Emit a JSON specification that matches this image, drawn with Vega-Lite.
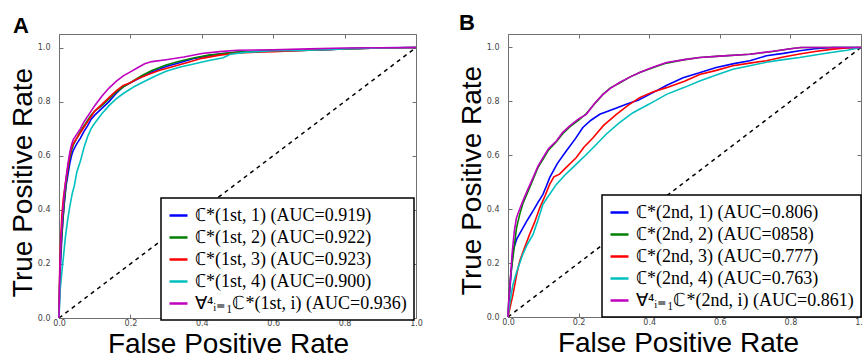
{
  "$schema": "https://vega.github.io/schema/vega-lite/v6.json",
  "padding": {"left": 8, "top": 11, "right": 0, "bottom": 0},
  "background": "white",
  "config": {
    "view": {"stroke": "#707070", "strokeWidth": 1},
    "font": "Liberation Sans",
    "axis": {
      "labelFontSize": 8, "labelColor": "#444444", "labelFont": "DejaVu Sans",
      "tickColor": "#707070", "tickSize": -4, "domain": false, "grid": false,
      "titleFontSize": 28, "titleFontWeight": "normal", "titleColor": "black", "titleFont": "Liberation Sans",
      "labelFlush": false, "format": ".1f"
    },
    "axisX": {"labelPadding": 5, "titlePadding": 3},
    "axisY": {"labelPadding": 13, "titlePadding": 0},
    "legend": {
      "orient": "none", "strokeColor": "black", "strokeWidth": 1.5, "fillColor": "white", "padding": 7,
      "labelFont": "Liberation Serif", "labelFontSize": 18, "labelColor": "black", "labelLimit": 400,
      "symbolType": "stroke", "symbolSize": 324, "symbolStrokeWidth": 2.5, "rowPadding": 2, "labelOffset": 6
    },
    "concat": {"spacing": 34}
  },
  "datasets": {
    "diag": [{"fpr": 0, "tpr": 0}, {"fpr": 1, "tpr": 1}],
    "rocA": [
      {"series": "b", "fpr": 0, "tpr": 0}, {"series": "b", "fpr": 0.002, "tpr": 0.12}, {"series": "b", "fpr": 0.005, "tpr": 0.22}, {"series": "b", "fpr": 0.008, "tpr": 0.3}, {"series": "b", "fpr": 0.012, "tpr": 0.38}, {"series": "b", "fpr": 0.016, "tpr": 0.44}, {"series": "b", "fpr": 0.02, "tpr": 0.49}, {"series": "b", "fpr": 0.025, "tpr": 0.53}, {"series": "b", "fpr": 0.03, "tpr": 0.57}, {"series": "b", "fpr": 0.035, "tpr": 0.6}, {"series": "b", "fpr": 0.04, "tpr": 0.62}, {"series": "b", "fpr": 0.05, "tpr": 0.645}, {"series": "b", "fpr": 0.06, "tpr": 0.665}, {"series": "b", "fpr": 0.07, "tpr": 0.69}, {"series": "b", "fpr": 0.08, "tpr": 0.71}, {"series": "b", "fpr": 0.09, "tpr": 0.735}, {"series": "b", "fpr": 0.1, "tpr": 0.75}, {"series": "b", "fpr": 0.12, "tpr": 0.775}, {"series": "b", "fpr": 0.14, "tpr": 0.8}, {"series": "b", "fpr": 0.16, "tpr": 0.83}, {"series": "b", "fpr": 0.18, "tpr": 0.855}, {"series": "b", "fpr": 0.2, "tpr": 0.87}, {"series": "b", "fpr": 0.23, "tpr": 0.89}, {"series": "b", "fpr": 0.26, "tpr": 0.91}, {"series": "b", "fpr": 0.3, "tpr": 0.93}, {"series": "b", "fpr": 0.34, "tpr": 0.945}, {"series": "b", "fpr": 0.38, "tpr": 0.96}, {"series": "b", "fpr": 0.42, "tpr": 0.97}, {"series": "b", "fpr": 0.46, "tpr": 0.978}, {"series": "b", "fpr": 0.5, "tpr": 0.982}, {"series": "b", "fpr": 0.6, "tpr": 0.988}, {"series": "b", "fpr": 0.7, "tpr": 0.99}, {"series": "b", "fpr": 0.8, "tpr": 0.995}, {"series": "b", "fpr": 0.9, "tpr": 0.999}, {"series": "b", "fpr": 1, "tpr": 1},
      {"series": "g", "fpr": 0, "tpr": 0}, {"series": "g", "fpr": 0.002, "tpr": 0.15}, {"series": "g", "fpr": 0.005, "tpr": 0.25}, {"series": "g", "fpr": 0.01, "tpr": 0.35}, {"series": "g", "fpr": 0.015, "tpr": 0.43}, {"series": "g", "fpr": 0.02, "tpr": 0.5}, {"series": "g", "fpr": 0.025, "tpr": 0.55}, {"series": "g", "fpr": 0.03, "tpr": 0.59}, {"series": "g", "fpr": 0.035, "tpr": 0.62}, {"series": "g", "fpr": 0.04, "tpr": 0.64}, {"series": "g", "fpr": 0.05, "tpr": 0.665}, {"series": "g", "fpr": 0.06, "tpr": 0.69}, {"series": "g", "fpr": 0.07, "tpr": 0.71}, {"series": "g", "fpr": 0.08, "tpr": 0.73}, {"series": "g", "fpr": 0.09, "tpr": 0.75}, {"series": "g", "fpr": 0.1, "tpr": 0.765}, {"series": "g", "fpr": 0.12, "tpr": 0.785}, {"series": "g", "fpr": 0.14, "tpr": 0.81}, {"series": "g", "fpr": 0.16, "tpr": 0.835}, {"series": "g", "fpr": 0.18, "tpr": 0.855}, {"series": "g", "fpr": 0.2, "tpr": 0.87}, {"series": "g", "fpr": 0.23, "tpr": 0.895}, {"series": "g", "fpr": 0.26, "tpr": 0.915}, {"series": "g", "fpr": 0.3, "tpr": 0.935}, {"series": "g", "fpr": 0.34, "tpr": 0.95}, {"series": "g", "fpr": 0.38, "tpr": 0.962}, {"series": "g", "fpr": 0.42, "tpr": 0.972}, {"series": "g", "fpr": 0.46, "tpr": 0.978}, {"series": "g", "fpr": 0.5, "tpr": 0.983}, {"series": "g", "fpr": 0.6, "tpr": 0.987}, {"series": "g", "fpr": 0.7, "tpr": 0.99}, {"series": "g", "fpr": 0.8, "tpr": 0.995}, {"series": "g", "fpr": 0.9, "tpr": 0.998}, {"series": "g", "fpr": 1, "tpr": 1},
      {"series": "r", "fpr": 0, "tpr": 0}, {"series": "r", "fpr": 0.002, "tpr": 0.18}, {"series": "r", "fpr": 0.005, "tpr": 0.3}, {"series": "r", "fpr": 0.008, "tpr": 0.38}, {"series": "r", "fpr": 0.012, "tpr": 0.44}, {"series": "r", "fpr": 0.018, "tpr": 0.5}, {"series": "r", "fpr": 0.024, "tpr": 0.55}, {"series": "r", "fpr": 0.03, "tpr": 0.6}, {"series": "r", "fpr": 0.035, "tpr": 0.63}, {"series": "r", "fpr": 0.04, "tpr": 0.645}, {"series": "r", "fpr": 0.05, "tpr": 0.665}, {"series": "r", "fpr": 0.06, "tpr": 0.685}, {"series": "r", "fpr": 0.07, "tpr": 0.705}, {"series": "r", "fpr": 0.08, "tpr": 0.725}, {"series": "r", "fpr": 0.09, "tpr": 0.745}, {"series": "r", "fpr": 0.1, "tpr": 0.765}, {"series": "r", "fpr": 0.12, "tpr": 0.79}, {"series": "r", "fpr": 0.14, "tpr": 0.815}, {"series": "r", "fpr": 0.16, "tpr": 0.84}, {"series": "r", "fpr": 0.18, "tpr": 0.86}, {"series": "r", "fpr": 0.2, "tpr": 0.87}, {"series": "r", "fpr": 0.22, "tpr": 0.885}, {"series": "r", "fpr": 0.25, "tpr": 0.9}, {"series": "r", "fpr": 0.28, "tpr": 0.915}, {"series": "r", "fpr": 0.32, "tpr": 0.93}, {"series": "r", "fpr": 0.36, "tpr": 0.945}, {"series": "r", "fpr": 0.4, "tpr": 0.96}, {"series": "r", "fpr": 0.45, "tpr": 0.972}, {"series": "r", "fpr": 0.5, "tpr": 0.98}, {"series": "r", "fpr": 0.6, "tpr": 0.985}, {"series": "r", "fpr": 0.7, "tpr": 0.99}, {"series": "r", "fpr": 0.8, "tpr": 0.995}, {"series": "r", "fpr": 0.9, "tpr": 0.998}, {"series": "r", "fpr": 1, "tpr": 1},
      {"series": "c", "fpr": 0, "tpr": 0}, {"series": "c", "fpr": 0.003, "tpr": 0.1}, {"series": "c", "fpr": 0.008, "tpr": 0.17}, {"series": "c", "fpr": 0.012, "tpr": 0.22}, {"series": "c", "fpr": 0.018, "tpr": 0.3}, {"series": "c", "fpr": 0.024, "tpr": 0.36}, {"series": "c", "fpr": 0.03, "tpr": 0.41}, {"series": "c", "fpr": 0.037, "tpr": 0.46}, {"series": "c", "fpr": 0.043, "tpr": 0.49}, {"series": "c", "fpr": 0.05, "tpr": 0.54}, {"series": "c", "fpr": 0.06, "tpr": 0.58}, {"series": "c", "fpr": 0.07, "tpr": 0.63}, {"series": "c", "fpr": 0.08, "tpr": 0.67}, {"series": "c", "fpr": 0.09, "tpr": 0.7}, {"series": "c", "fpr": 0.1, "tpr": 0.72}, {"series": "c", "fpr": 0.12, "tpr": 0.755}, {"series": "c", "fpr": 0.14, "tpr": 0.785}, {"series": "c", "fpr": 0.16, "tpr": 0.81}, {"series": "c", "fpr": 0.18, "tpr": 0.83}, {"series": "c", "fpr": 0.21, "tpr": 0.855}, {"series": "c", "fpr": 0.24, "tpr": 0.875}, {"series": "c", "fpr": 0.27, "tpr": 0.895}, {"series": "c", "fpr": 0.3, "tpr": 0.912}, {"series": "c", "fpr": 0.34, "tpr": 0.928}, {"series": "c", "fpr": 0.38, "tpr": 0.94}, {"series": "c", "fpr": 0.42, "tpr": 0.952}, {"series": "c", "fpr": 0.46, "tpr": 0.962}, {"series": "c", "fpr": 0.48, "tpr": 0.975}, {"series": "c", "fpr": 0.52, "tpr": 0.982}, {"series": "c", "fpr": 0.6, "tpr": 0.988}, {"series": "c", "fpr": 0.7, "tpr": 0.99}, {"series": "c", "fpr": 0.8, "tpr": 0.995}, {"series": "c", "fpr": 0.9, "tpr": 0.998}, {"series": "c", "fpr": 1, "tpr": 1},
      {"series": "m", "fpr": 0, "tpr": 0}, {"series": "m", "fpr": 0.002, "tpr": 0.15}, {"series": "m", "fpr": 0.005, "tpr": 0.28}, {"series": "m", "fpr": 0.01, "tpr": 0.38}, {"series": "m", "fpr": 0.015, "tpr": 0.46}, {"series": "m", "fpr": 0.02, "tpr": 0.52}, {"series": "m", "fpr": 0.025, "tpr": 0.57}, {"series": "m", "fpr": 0.03, "tpr": 0.61}, {"series": "m", "fpr": 0.035, "tpr": 0.64}, {"series": "m", "fpr": 0.04, "tpr": 0.66}, {"series": "m", "fpr": 0.05, "tpr": 0.68}, {"series": "m", "fpr": 0.06, "tpr": 0.7}, {"series": "m", "fpr": 0.07, "tpr": 0.725}, {"series": "m", "fpr": 0.08, "tpr": 0.745}, {"series": "m", "fpr": 0.09, "tpr": 0.765}, {"series": "m", "fpr": 0.1, "tpr": 0.785}, {"series": "m", "fpr": 0.12, "tpr": 0.82}, {"series": "m", "fpr": 0.14, "tpr": 0.85}, {"series": "m", "fpr": 0.16, "tpr": 0.875}, {"series": "m", "fpr": 0.18, "tpr": 0.895}, {"series": "m", "fpr": 0.2, "tpr": 0.91}, {"series": "m", "fpr": 0.22, "tpr": 0.925}, {"series": "m", "fpr": 0.24, "tpr": 0.94}, {"series": "m", "fpr": 0.26, "tpr": 0.948}, {"series": "m", "fpr": 0.3, "tpr": 0.955}, {"series": "m", "fpr": 0.35, "tpr": 0.965}, {"series": "m", "fpr": 0.4, "tpr": 0.978}, {"series": "m", "fpr": 0.45, "tpr": 0.985}, {"series": "m", "fpr": 0.5, "tpr": 0.99}, {"series": "m", "fpr": 0.6, "tpr": 0.992}, {"series": "m", "fpr": 0.7, "tpr": 0.995}, {"series": "m", "fpr": 0.8, "tpr": 0.998}, {"series": "m", "fpr": 0.9, "tpr": 0.999}, {"series": "m", "fpr": 1, "tpr": 1}
    ],
    "rocB": [
      {"series": "b", "fpr": 0, "tpr": 0}, {"series": "b", "fpr": 0.003, "tpr": 0.06}, {"series": "b", "fpr": 0.008, "tpr": 0.15}, {"series": "b", "fpr": 0.014, "tpr": 0.245}, {"series": "b", "fpr": 0.025, "tpr": 0.29}, {"series": "b", "fpr": 0.042, "tpr": 0.33}, {"series": "b", "fpr": 0.055, "tpr": 0.36}, {"series": "b", "fpr": 0.071, "tpr": 0.394}, {"series": "b", "fpr": 0.085, "tpr": 0.425}, {"series": "b", "fpr": 0.099, "tpr": 0.455}, {"series": "b", "fpr": 0.11, "tpr": 0.49}, {"series": "b", "fpr": 0.118, "tpr": 0.517}, {"series": "b", "fpr": 0.14, "tpr": 0.57}, {"series": "b", "fpr": 0.165, "tpr": 0.616}, {"series": "b", "fpr": 0.19, "tpr": 0.66}, {"series": "b", "fpr": 0.212, "tpr": 0.703}, {"series": "b", "fpr": 0.235, "tpr": 0.73}, {"series": "b", "fpr": 0.26, "tpr": 0.752}, {"series": "b", "fpr": 0.3, "tpr": 0.772}, {"series": "b", "fpr": 0.335, "tpr": 0.789}, {"series": "b", "fpr": 0.37, "tpr": 0.805}, {"series": "b", "fpr": 0.401, "tpr": 0.826}, {"series": "b", "fpr": 0.45, "tpr": 0.86}, {"series": "b", "fpr": 0.496, "tpr": 0.888}, {"series": "b", "fpr": 0.54, "tpr": 0.905}, {"series": "b", "fpr": 0.59, "tpr": 0.926}, {"series": "b", "fpr": 0.64, "tpr": 0.94}, {"series": "b", "fpr": 0.685, "tpr": 0.951}, {"series": "b", "fpr": 0.732, "tpr": 0.969}, {"series": "b", "fpr": 0.78, "tpr": 0.978}, {"series": "b", "fpr": 0.826, "tpr": 0.988}, {"series": "b", "fpr": 0.87, "tpr": 0.995}, {"series": "b", "fpr": 0.92, "tpr": 1.0}, {"series": "b", "fpr": 1, "tpr": 1},
      {"series": "g", "fpr": 0, "tpr": 0}, {"series": "g", "fpr": 0.003, "tpr": 0.08}, {"series": "g", "fpr": 0.008, "tpr": 0.16}, {"series": "g", "fpr": 0.014, "tpr": 0.22}, {"series": "g", "fpr": 0.024, "tpr": 0.33}, {"series": "g", "fpr": 0.033, "tpr": 0.38}, {"series": "g", "fpr": 0.042, "tpr": 0.42}, {"series": "g", "fpr": 0.055, "tpr": 0.46}, {"series": "g", "fpr": 0.071, "tpr": 0.51}, {"series": "g", "fpr": 0.085, "tpr": 0.555}, {"series": "g", "fpr": 0.099, "tpr": 0.585}, {"series": "g", "fpr": 0.115, "tpr": 0.62}, {"series": "g", "fpr": 0.137, "tpr": 0.65}, {"series": "g", "fpr": 0.155, "tpr": 0.68}, {"series": "g", "fpr": 0.175, "tpr": 0.705}, {"series": "g", "fpr": 0.2, "tpr": 0.73}, {"series": "g", "fpr": 0.222, "tpr": 0.755}, {"series": "g", "fpr": 0.245, "tpr": 0.79}, {"series": "g", "fpr": 0.269, "tpr": 0.826}, {"series": "g", "fpr": 0.29, "tpr": 0.85}, {"series": "g", "fpr": 0.316, "tpr": 0.868}, {"series": "g", "fpr": 0.345, "tpr": 0.89}, {"series": "g", "fpr": 0.373, "tpr": 0.907}, {"series": "g", "fpr": 0.41, "tpr": 0.925}, {"series": "g", "fpr": 0.449, "tpr": 0.942}, {"series": "g", "fpr": 0.5, "tpr": 0.955}, {"series": "g", "fpr": 0.543, "tpr": 0.963}, {"series": "g", "fpr": 0.6, "tpr": 0.968}, {"series": "g", "fpr": 0.685, "tpr": 0.975}, {"series": "g", "fpr": 0.75, "tpr": 0.985}, {"series": "g", "fpr": 0.8, "tpr": 0.995}, {"series": "g", "fpr": 0.83, "tpr": 1.0}, {"series": "g", "fpr": 1, "tpr": 1},
      {"series": "r", "fpr": 0, "tpr": 0}, {"series": "r", "fpr": 0.005, "tpr": 0.03}, {"series": "r", "fpr": 0.014, "tpr": 0.083}, {"series": "r", "fpr": 0.025, "tpr": 0.16}, {"series": "r", "fpr": 0.033, "tpr": 0.207}, {"series": "r", "fpr": 0.045, "tpr": 0.25}, {"series": "r", "fpr": 0.061, "tpr": 0.306}, {"series": "r", "fpr": 0.075, "tpr": 0.35}, {"series": "r", "fpr": 0.09, "tpr": 0.405}, {"series": "r", "fpr": 0.105, "tpr": 0.45}, {"series": "r", "fpr": 0.118, "tpr": 0.492}, {"series": "r", "fpr": 0.13, "tpr": 0.52}, {"series": "r", "fpr": 0.146, "tpr": 0.53}, {"series": "r", "fpr": 0.165, "tpr": 0.555}, {"series": "r", "fpr": 0.193, "tpr": 0.591}, {"series": "r", "fpr": 0.215, "tpr": 0.63}, {"series": "r", "fpr": 0.241, "tpr": 0.665}, {"series": "r", "fpr": 0.27, "tpr": 0.71}, {"series": "r", "fpr": 0.307, "tpr": 0.752}, {"series": "r", "fpr": 0.34, "tpr": 0.785}, {"series": "r", "fpr": 0.373, "tpr": 0.814}, {"series": "r", "fpr": 0.41, "tpr": 0.835}, {"series": "r", "fpr": 0.449, "tpr": 0.851}, {"series": "r", "fpr": 0.5, "tpr": 0.875}, {"series": "r", "fpr": 0.543, "tpr": 0.9}, {"series": "r", "fpr": 0.59, "tpr": 0.915}, {"series": "r", "fpr": 0.637, "tpr": 0.932}, {"series": "r", "fpr": 0.685, "tpr": 0.942}, {"series": "r", "fpr": 0.732, "tpr": 0.951}, {"series": "r", "fpr": 0.78, "tpr": 0.965}, {"series": "r", "fpr": 0.826, "tpr": 0.976}, {"series": "r", "fpr": 0.87, "tpr": 0.985}, {"series": "r", "fpr": 0.92, "tpr": 0.994}, {"series": "r", "fpr": 0.96, "tpr": 0.998}, {"series": "r", "fpr": 1, "tpr": 1},
      {"series": "c", "fpr": 0, "tpr": 0}, {"series": "c", "fpr": 0.005, "tpr": 0.05}, {"series": "c", "fpr": 0.014, "tpr": 0.12}, {"series": "c", "fpr": 0.025, "tpr": 0.17}, {"series": "c", "fpr": 0.042, "tpr": 0.233}, {"series": "c", "fpr": 0.055, "tpr": 0.27}, {"series": "c", "fpr": 0.071, "tpr": 0.306}, {"series": "c", "fpr": 0.085, "tpr": 0.36}, {"series": "c", "fpr": 0.099, "tpr": 0.418}, {"series": "c", "fpr": 0.115, "tpr": 0.45}, {"series": "c", "fpr": 0.137, "tpr": 0.492}, {"series": "c", "fpr": 0.16, "tpr": 0.525}, {"series": "c", "fpr": 0.184, "tpr": 0.555}, {"series": "c", "fpr": 0.222, "tpr": 0.603}, {"series": "c", "fpr": 0.25, "tpr": 0.64}, {"series": "c", "fpr": 0.278, "tpr": 0.678}, {"series": "c", "fpr": 0.315, "tpr": 0.72}, {"series": "c", "fpr": 0.354, "tpr": 0.758}, {"series": "c", "fpr": 0.4, "tpr": 0.79}, {"series": "c", "fpr": 0.449, "tpr": 0.826}, {"series": "c", "fpr": 0.5, "tpr": 0.852}, {"series": "c", "fpr": 0.543, "tpr": 0.876}, {"series": "c", "fpr": 0.59, "tpr": 0.898}, {"series": "c", "fpr": 0.637, "tpr": 0.919}, {"series": "c", "fpr": 0.685, "tpr": 0.932}, {"series": "c", "fpr": 0.732, "tpr": 0.945}, {"series": "c", "fpr": 0.78, "tpr": 0.955}, {"series": "c", "fpr": 0.826, "tpr": 0.963}, {"series": "c", "fpr": 0.87, "tpr": 0.972}, {"series": "c", "fpr": 0.92, "tpr": 0.982}, {"series": "c", "fpr": 0.96, "tpr": 0.99}, {"series": "c", "fpr": 1, "tpr": 1},
      {"series": "m", "fpr": 0, "tpr": 0}, {"series": "m", "fpr": 0.002, "tpr": 0.06}, {"series": "m", "fpr": 0.005, "tpr": 0.108}, {"series": "m", "fpr": 0.012, "tpr": 0.24}, {"series": "m", "fpr": 0.018, "tpr": 0.32}, {"series": "m", "fpr": 0.024, "tpr": 0.368}, {"series": "m", "fpr": 0.033, "tpr": 0.4}, {"series": "m", "fpr": 0.042, "tpr": 0.43}, {"series": "m", "fpr": 0.055, "tpr": 0.47}, {"series": "m", "fpr": 0.071, "tpr": 0.517}, {"series": "m", "fpr": 0.085, "tpr": 0.56}, {"series": "m", "fpr": 0.099, "tpr": 0.591}, {"series": "m", "fpr": 0.115, "tpr": 0.625}, {"series": "m", "fpr": 0.137, "tpr": 0.653}, {"series": "m", "fpr": 0.155, "tpr": 0.685}, {"series": "m", "fpr": 0.175, "tpr": 0.709}, {"series": "m", "fpr": 0.2, "tpr": 0.735}, {"series": "m", "fpr": 0.222, "tpr": 0.752}, {"series": "m", "fpr": 0.245, "tpr": 0.792}, {"series": "m", "fpr": 0.269, "tpr": 0.826}, {"series": "m", "fpr": 0.29, "tpr": 0.848}, {"series": "m", "fpr": 0.316, "tpr": 0.87}, {"series": "m", "fpr": 0.345, "tpr": 0.89}, {"series": "m", "fpr": 0.373, "tpr": 0.907}, {"series": "m", "fpr": 0.41, "tpr": 0.927}, {"series": "m", "fpr": 0.449, "tpr": 0.944}, {"series": "m", "fpr": 0.5, "tpr": 0.955}, {"series": "m", "fpr": 0.543, "tpr": 0.963}, {"series": "m", "fpr": 0.6, "tpr": 0.968}, {"series": "m", "fpr": 0.685, "tpr": 0.975}, {"series": "m", "fpr": 0.75, "tpr": 0.986}, {"series": "m", "fpr": 0.8, "tpr": 0.995}, {"series": "m", "fpr": 0.83, "tpr": 1.0}, {"series": "m", "fpr": 1, "tpr": 1}
    ]
  },
  "hconcat": [
    {
      "width": 357, "height": 284,
      "title": {"text": "A", "anchor": "start", "frame": "group", "fontSize": 22, "fontWeight": "bold", "font": "Liberation Sans", "dx": -46, "offset": -4},
      "layer": [
        {
          "data": {"name": "diag"},
          "mark": {"type": "line", "color": "black", "strokeDash": [4, 4], "strokeWidth": 1.5},
          "encoding": {
            "x": {"field": "fpr", "type": "quantitative", "scale": {"domain": [0, 1], "nice": false}, "axis": {"orient": "top", "labels": false, "title": null, "values": [0, 0.2, 0.4, 0.6, 0.8, 1.0]}},
            "y": {"field": "tpr", "type": "quantitative", "scale": {"domain": [0, 1.05], "nice": false}, "axis": {"orient": "right", "labels": false, "title": null, "values": [0, 0.2, 0.4, 0.6, 0.8, 1.0]}}
          }
        },
        {
          "data": {"name": "rocA"},
          "mark": {"type": "line", "strokeWidth": 1.6},
          "encoding": {
            "x": {"field": "fpr", "type": "quantitative", "scale": {"domain": [0, 1], "nice": false}, "axis": {"orient": "bottom", "title": "False Positive Rate", "titleX": 169, "values": [0, 0.2, 0.4, 0.6, 0.8, 1.0]}},
            "y": {"field": "tpr", "type": "quantitative", "scale": {"domain": [0, 1.05], "nice": false}, "axis": {"orient": "left", "title": "True Positive Rate", "titleY": 148, "values": [0, 0.2, 0.4, 0.6, 0.8, 1.0]}},
            "color": {
              "field": "series", "type": "nominal",
              "scale": {"domain": ["b", "g", "r", "c", "m"], "range": ["#0000ff", "#008000", "#ff0000", "#00bfbf", "#bf00bf"]},
              "legend": {"title": null, "legendX": 102, "legendY": 164,
                "labelExpr": "{'b': 'ℂ*(1st, 1) (AUC=0.919)', 'g': 'ℂ*(1st, 2) (AUC=0.922)', 'r': 'ℂ*(1st, 3) (AUC=0.923)', 'c': 'ℂ*(1st, 4) (AUC=0.900)', 'm': '∀⁴ᵢ₌₁ℂ*(1st, i) (AUC=0.936)'}[datum.value]"}
            }
          }
        }
      ],
      "resolve": {"axis": {"x": "independent", "y": "independent"}}
    },
    {
      "width": 353, "height": 283,
      "title": {"text": "B", "anchor": "start", "frame": "group", "fontSize": 22, "fontWeight": "bold", "font": "Liberation Sans", "dx": -49, "offset": -1},
      "layer": [
        {
          "data": {"name": "diag"},
          "mark": {"type": "line", "color": "black", "strokeDash": [4, 4], "strokeWidth": 1.5},
          "encoding": {
            "x": {"field": "fpr", "type": "quantitative", "scale": {"domain": [0, 1], "nice": false}, "axis": {"orient": "top", "labels": false, "title": null, "values": [0, 0.2, 0.4, 0.6, 0.8, 1.0]}},
            "y": {"field": "tpr", "type": "quantitative", "scale": {"domain": [0, 1.05], "nice": false}, "axis": {"orient": "right", "labels": false, "title": null, "values": [0, 0.2, 0.4, 0.6, 0.8, 1.0]}}
          }
        },
        {
          "data": {"name": "rocB"},
          "mark": {"type": "line", "strokeWidth": 1.6},
          "encoding": {
            "x": {"field": "fpr", "type": "quantitative", "scale": {"domain": [0, 1], "nice": false}, "axis": {"orient": "bottom", "title": "False Positive Rate", "titleX": 170, "values": [0, 0.2, 0.4, 0.6, 0.8, 1.0]}},
            "y": {"field": "tpr", "type": "quantitative", "scale": {"domain": [0, 1.05], "nice": false}, "axis": {"orient": "left", "title": "True Positive Rate", "titleY": 146, "values": [0, 0.2, 0.4, 0.6, 0.8, 1.0]}},
            "color": {
              "field": "series", "type": "nominal",
              "scale": {"domain": ["b", "g", "r", "c", "m"], "range": ["#0000ff", "#008000", "#ff0000", "#00bfbf", "#bf00bf"]},
              "legend": {"title": null, "legendX": 94, "legendY": 161,
                "labelExpr": "{'b': 'ℂ*(2nd, 1) (AUC=0.806)', 'g': 'ℂ*(2nd, 2) (AUC=0858)', 'r': 'ℂ*(2nd, 3) (AUC=0.777)', 'c': 'ℂ*(2nd, 4) (AUC=0.763)', 'm': '∀⁴ᵢ₌₁ℂ*(2nd, i) (AUC=0.861)'}[datum.value]"}
            }
          }
        }
      ],
      "resolve": {"axis": {"x": "independent", "y": "independent"}}
    }
  ],
  "resolve": {"scale": {"color": "independent"}, "legend": {"color": "independent"}}
}
